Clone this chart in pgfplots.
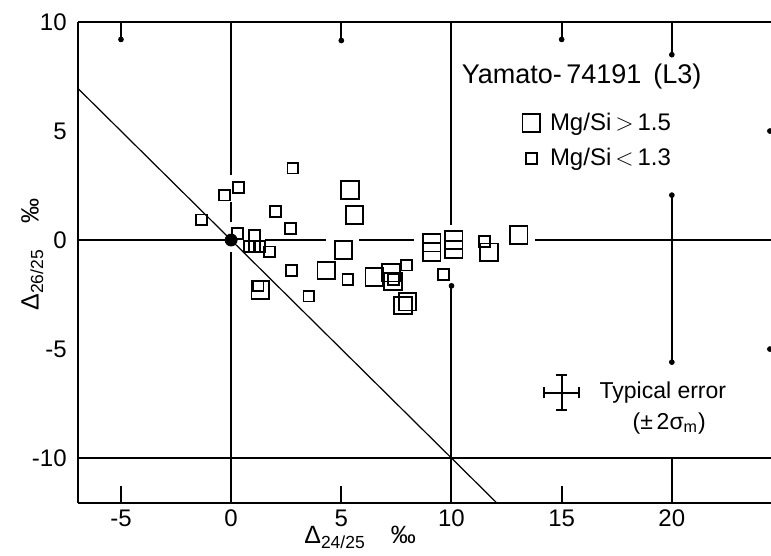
\documentclass[border=0pt]{standalone}
\usepackage{fontspec}
\setmainfont{Liberation Sans}
\usepackage{pgfplots}
\pgfplotsset{compat=1.18}

\begin{document}
\begin{tikzpicture}
\begin{axis}[
    scale only axis,
    width=346.5pt, height=240.4pt,
    xmin=-6.95, xmax=24.5,
    ymin=-12.05, ymax=10,
    axis x line=box, axis y line=left,
    axis line style={-, line width=1pt},
    xtick={-5,0,5,10,15,20},
    ytick={-10,-5,0,5,10},
    xtick style={draw=none},
    ytick style={draw=none},
    /pgf/number format/assume math mode=true,
    ticklabel style={font=\fontsize{12}{14}\selectfont},
    xlabel={Δ\textsubscript{24/25}\quad ‰},
    ylabel={Δ\textsubscript{26/25}\quad ‰},
    xlabel style={at={(axis description cs:0.407,-0.072)}, anchor=center, font=\fontsize{12.5}{14}\selectfont},
    ylabel style={at={(axis description cs:-0.066,0.516)}, anchor=center, font=\fontsize{12.5}{14}\selectfont},
    legend style={draw=none, fill=none, at={(axis cs:13.2,4.55)}, anchor=west,
        font=\fontsize{12}{14}\selectfont, row sep=3.5pt, column sep=3pt, inner sep=0pt},
    legend cell align=left,
    clip=false,
]
% data: Mg/Si > 1.5 (large squares)
\addplot[black, only marks, mark=square, mark size=4.4pt, mark options={line width=0.9pt}] coordinates {
    (5.4,2.3) (5.6,1.15) (5.1,-0.46) (4.32,-1.4) (6.5,-1.7) (7.26,-1.5) (7.34,-1.9)
    (8.0,-2.83) (7.8,-3.0) (9.1,-0.12) (9.1,-0.54) (10.1,0) (10.1,-0.43)
    (11.7,-0.56) (13.05,0.23) (1.32,-2.3)
};
\addlegendentry{Mg/Si\,$>$\,1.5}
% data: Mg/Si < 1.3 (small squares)
\addplot[black, only marks, mark=square, mark size=2.7pt, mark options={line width=0.9pt}] coordinates {
    (2.8,3.3) (0.33,2.4) (-0.3,2.06) (-1.34,0.92) (2.0,1.3) (2.7,0.54) (0.3,0.3)
    (1.05,0.2) (0.84,-0.3) (1.06,-0.3) (1.28,-0.3) (1.73,-0.54) (2.74,-1.4)
    (1.22,-2.1) (3.53,-2.57) (5.3,-1.8) (7.37,-1.8) (7.95,-1.15) (9.65,-1.57)
    (11.5,-0.08)
};
\addlegendentry{Mg/Si\,$<$\,1.3}

% reference lines (broken around the points)
\addplot[black, line width=1pt, unbounded coords=jump, forget plot] coordinates {
    (0,10) (0,3.0) (0,nan) (0,1.75) (0,0.85) (0,nan) (0,-0.55) (0,-12.05) (0,nan)
    (10,10) (10,0.7) (10,nan) (10,-2.1) (10,-12.05) (10,nan)
    (20,10) (20,8.5) (20,nan) (20,2.06) (20,-5.6) (20,nan) (20,-10) (20,-12.05)
};
% short ticks at top and bottom
\addplot[black, line width=1pt, forget plot] coordinates {(-5,10) (-5,9.2)};
\addplot[black, line width=1pt, forget plot] coordinates {(5,10) (5,9.15)};
\addplot[black, line width=1pt, forget plot] coordinates {(15,10) (15,9.2)};
\addplot[black, line width=1pt, forget plot] coordinates {(-5,-12.05) (-5,-11.3)};
\addplot[black, line width=1pt, forget plot] coordinates {(5,-12.05) (5,-11.3)};
\addplot[black, line width=1pt, forget plot] coordinates {(15,-12.05) (15,-11.3)};
\addplot[black, line width=1pt, unbounded coords=jump, forget plot] coordinates {
    (-6.95,0) (-0.3,0) (nan,0) (1.55,0) (4.3,0) (nan,0) (5.8,0) (8.3,0) (nan,0)
    (13.8,0) (24.5,0)
};
\addplot[black, line width=1pt, forget plot] coordinates {(-6.95,-10) (24.5,-10)};
\addplot[black, only marks, mark=*, mark size=1.2pt, forget plot] coordinates {
    (-5,9.2) (5,9.15) (15,9.2) (20,8.5) (20,2.06) (20,-5.6) (10,-2.1)
    (24.45,5) (24.45,-5)
};
% y = -x
\addplot[black, line width=0.6pt, forget plot] coordinates {(-6.95,6.95) (12.05,-12.05)};
\addplot[black, only marks, mark=*, mark size=3pt, forget plot] coordinates {(0,0)};

% typical error (+- 0.8 in both directions, with caps)
\addplot[black, line width=0.9pt, unbounded coords=jump, forget plot] coordinates {
    (14.2,-7) (15.8,-7) (nan,nan) (15,-7.8) (15,-6.2) (nan,nan)
    (14.2,-7.25) (14.2,-6.75) (nan,nan) (15.8,-7.25) (15.8,-6.75) (nan,nan)
    (14.75,-7.8) (15.25,-7.8) (nan,nan) (14.75,-6.2) (15.25,-6.2)
};

\node[anchor=west, font=\fontsize{13.5}{16}\selectfont] at (axis cs:10.15,7.5) {Yamato-\,74191\, (L3)};
\node[anchor=west, font=\fontsize{11.5}{14}\selectfont] at (axis cs:16.4,-7.0) {Typical error};
\node[anchor=west, font=\fontsize{11.5}{14}\selectfont] at (axis cs:17.9,-8.4) {(±\,2σ\textsubscript{m})};

\coordinate (LL) at (rel axis cs:0,0);
\coordinate (UR) at (rel axis cs:1,1);
\end{axis}
\pgfresetboundingbox
\path[use as bounding box] ([shift={(-39pt,-26.5pt)}]LL) rectangle ([shift={(0pt,11pt)}]UR);
\end{tikzpicture}
\end{document}
